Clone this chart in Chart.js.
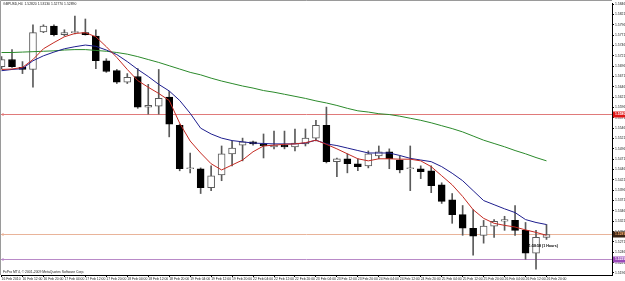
<!DOCTYPE html>
<html>
<head>
<meta charset="utf-8">
<script src="https://cdn.jsdelivr.net/npm/chart.js@4.4.1/dist/chart.umd.min.js"></script>
<style>
  html, body { margin: 0; padding: 0; background: #fff; }
  canvas { display: block; }
</style>
</head>
<body>
<canvas id="chart" width="625" height="281"></canvas>
<script>
'use strict'

// GBPUSD H4, 16 Feb 04:00 .. 26 Feb 20:00 2010
const days = ['16 Feb', '17 Feb', '18 Feb', '19 Feb', '22 Feb', '23 Feb', '24 Feb', '25 Feb', '26 Feb'];
const hours = ['00:00', '04:00', '08:00', '12:00', '16:00', '20:00'];

const opens = [1.5695, 1.5712, 1.5693, 1.5688, 1.5779, 1.5793, 1.5772, 1.5777, 1.5777, 1.5769,
	1.5709, 1.5685, 1.5657, 1.5671, 1.5597, 1.5599, 1.5621, 1.5553, 1.5448, 1.5448,
	1.5402, 1.5433, 1.5484, 1.5505, 1.5513, 1.5508, 1.5501, 1.5505, 1.5501, 1.5508,
	1.5522, 1.5553, 1.5465, 1.5472, 1.5460, 1.5455, 1.5479, 1.5489, 1.5469, 1.5448,
	1.5448, 1.5443, 1.5409, 1.5373, 1.5337, 1.5304, 1.5287, 1.5309, 1.5321, 1.5323,
	1.5299, 1.5244, 1.5282];
const highs = [1.5719, 1.5736, 1.5707, 1.5796, 1.5796, 1.5796, 1.5784, 1.5817, 1.5810, 1.5784,
	1.5714, 1.5688, 1.5678, 1.5690, 1.5652, 1.5688, 1.5635, 1.5556, 1.5486, 1.5450,
	1.5455, 1.5503, 1.5515, 1.5522, 1.5515, 1.5532, 1.5539, 1.5539, 1.5544, 1.5544,
	1.5565, 1.5597, 1.5474, 1.5484, 1.5472, 1.5491, 1.5503, 1.5496, 1.5479, 1.5503,
	1.5455, 1.5455, 1.5414, 1.5388, 1.5359, 1.5349, 1.5323, 1.5325, 1.5333, 1.5359,
	1.5318, 1.5299, 1.5313];
const lows = [1.5690, 1.5693, 1.5678, 1.5645, 1.5777, 1.5769, 1.5769, 1.5774, 1.5771, 1.5690,
	1.5681, 1.5654, 1.5654, 1.5594, 1.5580, 1.5580, 1.5525, 1.5443, 1.5438, 1.5388,
	1.5395, 1.5419, 1.5455, 1.5467, 1.5505, 1.5474, 1.5496, 1.5496, 1.5491, 1.5503,
	1.5515, 1.5462, 1.5429, 1.5438, 1.5443, 1.5450, 1.5472, 1.5448, 1.5438, 1.5395,
	1.5424, 1.5390, 1.5364, 1.5316, 1.5287, 1.5239, 1.5268, 1.5282, 1.5299, 1.5287,
	1.5229, 1.5205, 1.5277];
const closes = [1.5712, 1.5695, 1.5688, 1.5777, 1.5793, 1.5772, 1.5777, 1.5779, 1.5772, 1.5709,
	1.5683, 1.5657, 1.5669, 1.5597, 1.5601, 1.5618, 1.5556, 1.5448, 1.5450, 1.5402,
	1.5431, 1.5484, 1.5498, 1.5513, 1.5508, 1.5503, 1.5505, 1.5501, 1.5510, 1.5522,
	1.5553, 1.5465, 1.5472, 1.5460, 1.5453, 1.5484, 1.5489, 1.5472, 1.5445, 1.5449,
	1.5441, 1.5407, 1.5369, 1.5337, 1.5304, 1.5285, 1.5309, 1.5321, 1.5325, 1.5299,
	1.5244, 1.5282, 1.5289];

const maFast = [1.5688, 1.5689, 1.5693, 1.5712, 1.5738, 1.5753, 1.5767, 1.5775, 1.5777, 1.5767,
	1.5743, 1.5717, 1.5688, 1.5661, 1.5645, 1.5630, 1.5613, 1.5558, 1.5515, 1.5486,
	1.5460, 1.5445, 1.5457, 1.5469, 1.5489, 1.5503, 1.5505, 1.5507, 1.5508, 1.5511,
	1.5517, 1.5507, 1.5496, 1.5484, 1.5472, 1.5467, 1.5472, 1.5472, 1.5471, 1.5471,
	1.5467, 1.5453, 1.5431, 1.5409, 1.5381, 1.5349, 1.5328, 1.5316, 1.5311, 1.5307,
	1.5300, 1.5294, 1.5287];
const maSlow = [1.5685, 1.5688, 1.5690, 1.5709, 1.5721, 1.5730, 1.5738, 1.5743, 1.5747, 1.5744,
	1.5735, 1.5724, 1.5707, 1.5688, 1.5671, 1.5652, 1.5636, 1.5613, 1.5582, 1.5546,
	1.5532, 1.5522, 1.5516, 1.5513, 1.5510, 1.5509, 1.5508, 1.5508, 1.5508, 1.5510,
	1.5517, 1.5508, 1.5504, 1.5498, 1.5492, 1.5486, 1.5486, 1.5486, 1.5480, 1.5473,
	1.5469, 1.5465, 1.5453, 1.5437, 1.5419, 1.5395, 1.5371, 1.5361, 1.5351, 1.5342,
	1.5325, 1.5318, 1.5313];
const maLong = [1.5729, 1.5729, 1.5730, 1.5731, 1.5732, 1.5733, 1.5735, 1.5736, 1.5736, 1.5734,
	1.5732, 1.5729, 1.5725, 1.5719, 1.5712, 1.5705, 1.5697, 1.5689, 1.5681, 1.5675,
	1.5667, 1.5660, 1.5654, 1.5648, 1.5643, 1.5637, 1.5633, 1.5628, 1.5623, 1.5618,
	1.5612, 1.5607, 1.5601, 1.5594, 1.5588, 1.5585, 1.5581, 1.5579, 1.5575, 1.5570,
	1.5565, 1.5559, 1.5552, 1.5545, 1.5537, 1.5527, 1.5517, 1.5509, 1.5501, 1.5492,
	1.5484, 1.5475, 1.5467];

const priceTicks = [1.5846, 1.5821, 1.5796, 1.5771, 1.5746, 1.5721, 1.5696, 1.5671, 1.5646,
	1.5621, 1.5596, 1.5571, 1.5546, 1.5521, 1.5496, 1.5471, 1.5446, 1.5421, 1.5396, 1.5371,
	1.5346, 1.5321, 1.5296, 1.5271, 1.5246, 1.5221, 1.5196];

const levelPrices = [1.5580, 1.5289, 1.5229];

const titleText = 'GBPUSD,H4  1.52820 1.53130 1.52770 1.52890';
const footerText = 'FxPro MT4, \u00a9 2001-2009 MetaQuotes Software Corp.';
const timerText = '1:58:58 (1 Hours)';

const barTimes = [];
days.forEach((d, di) => {
	hours.forEach(h => {
		if (di === 0 && h === '00:00') return;
		barTimes.push(d + ' ' + h);
	});
});
const tickBars = barTimes.map((t, i) => i).filter(i => i % 2 === 0);

const levelStyles = [
	{ line: '#e07a7a', box: '#e01818', text: '#fff' },
	{ line: '#e9b49a', box: '#3a2416', text: '#ffb070' },
	{ line: '#b98ac8', box: '#9a4ab8', text: '#fff' },
];

const tinyFont = { family: 'Liberation Sans', size: 3.4 };

const bodies = opens.map((o, i) => ({ x: i, y: [o, closes[i]] }));
const wicks = lows.map((l, i) => ({ x: i, y: [l, highs[i]] }));
const line = arr => arr.map((v, i) => ({ x: i, y: v }));

const mtDecor = {
	id: 'mtDecor',
	beforeDatasetsDraw(chart) {
		const { ctx, chartArea: a, scales: { y } } = chart;
		ctx.save();
		ctx.lineWidth = 1;
		levelPrices.forEach((p, i) => {
			const py = Math.round(y.getPixelForValue(p)) + 0.5;
			ctx.strokeStyle = levelStyles[i].line;
			ctx.beginPath();
			ctx.moveTo(a.left, py);
			ctx.lineTo(a.right, py);
			ctx.stroke();
		});
		ctx.restore();
	},
	afterDraw(chart) {
		const { ctx, chartArea: a, scales: { x, y } } = chart;
		ctx.save();
		// frame
		ctx.strokeStyle = '#9a9a9a';
		ctx.lineWidth = 1;
		ctx.beginPath();
		ctx.moveTo(0.5, a.bottom);
		ctx.lineTo(0.5, 0.5);
		ctx.lineTo(a.right, 0.5);
		ctx.stroke();

		// price boxes of the horizontal lines
		ctx.font = 'bold 3.4px "Liberation Sans"';
		ctx.textBaseline = 'middle';
		levelPrices.forEach((p, i) => {
			const py = Math.round(y.getPixelForValue(p));
			ctx.fillStyle = levelStyles[i].box;
			ctx.fillRect(a.right + 1, py - 2.5, 13, 6);
			ctx.fillStyle = levelStyles[i].text;
			ctx.fillText(p.toFixed(5), a.right + 3, py + 0.5);
			ctx.fillStyle = levelStyles[i].line;
			ctx.fillRect(a.left + 1, py - 0.5, 2, 2);
		});

		// texts
		ctx.fillStyle = '#222';
		ctx.font = '3.4px "Liberation Sans"';
		ctx.fillText(titleText, 3, 4);
		ctx.fillText(footerText, 3, a.bottom - 3);
		ctx.font = 'bold 3.6px "Liberation Sans"';
		ctx.fillStyle = '#000';
		ctx.fillText(timerText, x.getPixelForValue(50.3), y.getPixelForValue(1.5262));
		ctx.restore();
	},
};

let chart = new Chart(document.getElementById('chart'), {
	type: 'bar',
	data: {
		datasets: [
			{
				type: 'line',
				label: 'MA fast',
				data: line(maFast),
				borderColor: '#c42a22',
				borderWidth: 1,
				pointRadius: 0,
				order: 0,
			},
			{
				type: 'line',
				label: 'MA slow',
				data: line(maSlow),
				borderColor: '#1e1e8e',
				borderWidth: 1,
				pointRadius: 0,
				order: 0,
			},
			{
				type: 'line',
				label: 'MA long',
				data: line(maLong),
				borderColor: '#2b8a2b',
				borderWidth: 1,
				pointRadius: 0,
				order: 0,
			},
			{
				label: 'body',
				data: bodies,
				backgroundColor: closes.map((c, i) => c >= opens[i] ? '#fff' : '#000'),
				borderColor: closes.map((c, i) => c >= opens[i] ? '#5a5a5a' : '#000'),
				borderWidth: 1,
				borderSkipped: false,
				barThickness: 7,
				minBarLength: 1,
				grouped: false,
				order: 1,
			},
			{
				label: 'wick',
				data: wicks,
				backgroundColor: '#5a5a5a',
				borderWidth: 0,
				barThickness: 1,
				grouped: false,
				order: 2,
			},
		],
	},
	options: {
		responsive: false,
		animation: false,
		layout: { padding: { top: 1, left: 1, right: 0, bottom: 0 } },
		plugins: {
			legend: { display: false },
			tooltip: { enabled: false },
		},
		scales: {
			x: {
				type: 'linear',
				min: -0.05,
				max: 58.25,
				offset: false,
				afterBuildTicks: scale => {
					scale.ticks = tickBars.map(i => ({ value: i }));
				},
				afterFit: scale => {
					scale.height = 6;
				},
				ticks: {
					autoSkip: false,
					maxRotation: 0,
					minRotation: 0,
					align: 'start',
					padding: 0,
					color: '#222',
					font: tinyFont,
					callback: v => v === 0 ? '16 Feb 2010' : barTimes[v],
				},
				grid: {
					offset: false,
					drawOnChartArea: false,
					drawTicks: true,
					tickLength: 2,
					color: '#000',
				},
				border: { color: '#000' },
			},
			y: {
				position: 'right',
				min: 1.5191,
				max: 1.58486,
				afterBuildTicks: scale => {
					scale.ticks = priceTicks.map(v => ({ value: v }));
				},
				afterFit: scale => {
					scale.width = 13;
				},
				ticks: {
					autoSkip: false,
					padding: 1,
					color: '#222',
					font: tinyFont,
					callback: v => v.toFixed(5),
				},
				grid: {
					drawOnChartArea: false,
					drawTicks: true,
					tickLength: 2,
					color: '#000',
				},
				border: { color: '#000' },
			},
		},
	},
	plugins: [mtDecor],
});
</script>
</body>
</html>
